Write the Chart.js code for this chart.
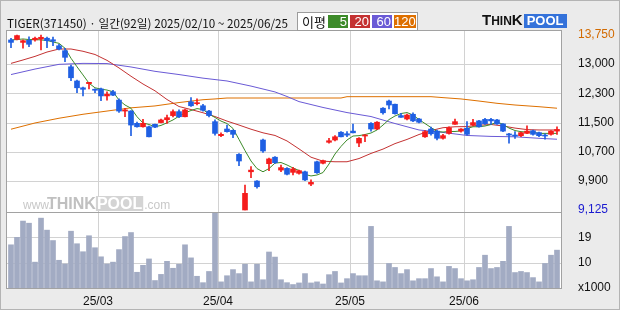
<!DOCTYPE html>
<html>
<head>
<meta charset="utf-8">
<script src="https://cdn.jsdelivr.net/npm/chart.js@4.4.1/dist/chart.umd.min.js"></script>
<style>
  html, body { margin: 0; padding: 0; background: #ebebeb; }
  #wrap { position: relative; width: 620px; height: 310px; overflow: hidden; }
  #c { position: absolute; left: 0; top: 0; }
  #title { position: absolute; left: 7px; top: 14px; font: 11.7px "Noto Sans CJK KR", sans-serif; line-height: 18px; color: #111; white-space: nowrap; }
  #leg { position: absolute; left: 297px; top: 12px; width: 119px; height: 17px; border: 1px solid #9c9c9c; background: #fff; font: 13px "Noto Sans CJK KR", sans-serif; }
  #leg .lbl { position: absolute; left: 4px; top: 0; line-height: 17px; color: #111; }
  #leg .box { position: absolute; top: 2px; height: 13px; line-height: 13px; color: #fff; text-align: right; padding-right: 1px; box-sizing: border-box; font-family: "Liberation Sans", sans-serif; }
  #logo { position: absolute; left: 482px; top: 13px; height: 14px; white-space: nowrap; font: bold 12px "Liberation Sans", sans-serif; line-height: 14px; color: #111; }
  #logo .big { font-size: 15px; }
  #logo .pool { display: inline-block; background: #3472da; color: #fff; font-size: 13px; padding: 0 3px; margin-left: 1px; }
</style>
</head>
<body>
<div id="wrap">
  <canvas id="c" width="620" height="310"></canvas>
  <div id="title">TIGER(371450) · 일간(92일) 2025/02/10 ~ 2025/06/25</div>
  <div id="leg">
    <span class="lbl">이평</span>
    <span class="box" style="left:30px;width:20px;background:#3d8b2a">5</span>
    <span class="box" style="left:52px;width:20px;background:#c43232">20</span>
    <span class="box" style="left:74px;width:20px;background:#6a5ad6">60</span>
    <span class="box" style="left:96px;width:22px;background:#de7000">120</span>
  </div>
  <div id="logo"><span class="big">T</span>HIN<span class="big">K</span><span class="pool">POOL</span></div>
</div>
<script>
// trading days per month, 2025
const febDays = [10, 11, 12, 13, 14, 17, 18, 19, 20, 21, 24, 25, 26, 27, 28];
const marDays = [4, 5, 6, 7, 10, 11, 12, 13, 14, 17, 18, 19, 20, 21, 24, 25, 26, 27, 28, 31];
const aprDays = [1, 2, 3, 4, 7, 8, 9, 10, 11, 14, 15, 16, 17, 18, 21, 22, 23, 24, 25, 28, 29, 30];
const mayDays = [2, 7, 8, 9, 12, 13, 14, 15, 16, 19, 20, 21, 22, 23, 26, 27, 28, 29, 30];
const junDays = [2, 4, 5, 9, 10, 11, 12, 13, 16, 17, 18, 19, 20, 23, 24, 25];

const dates = [];
[['02', febDays], ['03', marDays], ['04', aprDays], ['05', mayDays], ['06', junDays]].forEach(([m, days]) => {
    days.forEach(d => dates.push('2025/' + m + '/' + String(d).padStart(2, '0')));
});

const open = [
    13620, 13635, 13555, 13610, 13620, 13645, 13665, 13625, 13465, 13335,
    12910, 12535, 12355, 12465, 12315, 12325, 12140, 12250, 12030, 11740,
    11740, 11415, 11325, 11325, 11390, 11435, 11510, 11620, 11725, 11590,
    11985, 11935, 11880, 11740, 11460, 11090, 11265, 11230, 10595, 9125,
    10135, 9890, 10975, 10350, 10520, 10180, 10225, 10120, 10095, 10135,
    9810, 10400, 10360, 10915, 10975, 11180, 11140, 11210, 10895, 11080,
    11415, 11265, 11815, 12005, 11920, 11620, 11530, 11655, 11530, 11060,
    11265, 11210, 11020, 11150, 11390, 11210, 11285, 11370, 11480, 11520,
    11520, 11505, 11400, 11135, 11105, 11090, 11150, 11220, 11170, 11105,
    11125, 11210
];
const high = [
    13665, 13750, 13620, 13705, 13695, 13745, 13695, 13695, 13505, 13400,
    12955, 12560, 12375, 12500, 12325, 12350, 12250, 12285, 12060, 11815,
    11755, 11450, 11520, 11345, 11395, 11530, 11635, 11770, 11770, 11795,
    12095, 12060, 11920, 11760, 11505, 11165, 11370, 11245, 10615, 9785,
    10270, 9905, 11000, 10500, 10540, 10315, 10245, 10255, 10180, 10155,
    9920, 10420, 10445, 11020, 11095, 11200, 11200, 11395, 11040, 11120,
    11435, 11465, 11835, 12030, 11925, 11680, 11660, 11690, 11545, 11225,
    11315, 11240, 11125, 11325, 11530, 11280, 11460, 11520, 11495, 11545,
    11550, 11520, 11410, 11150, 11195, 11185, 11350, 11240, 11185, 11135,
    11225, 11325
];
const low = [
    13415, 13620, 13400, 13440, 13590, 13355, 13415, 13465, 13355, 13045,
    12540, 12225, 12140, 12325, 12225, 12015, 12030, 12145, 11705, 11590,
    11090, 11315, 11315, 11055, 11300, 11425, 11415, 11585, 11565, 11585,
    11865, 11900, 11740, 11585, 11105, 11065, 11185, 11035, 10295, 9125,
    9980, 9700, 10650, 10165, 10355, 10135, 10050, 10050, 10075, 9900,
    9765, 10090, 10340, 10890, 10950, 11055, 11060, 11165, 10800, 10930,
    11210, 11250, 11655, 11795, 11660, 11575, 11505, 11460, 11425, 11040,
    11105, 10975, 10995, 11130, 11390, 11185, 11105, 11350, 11315, 11390,
    11390, 11385, 11195, 10890, 11020, 11065, 11140, 11105, 11065, 11000,
    11105, 11125
];
const close = [
    13555, 13735, 13600, 13505, 13665, 13690, 13600, 13585, 13380, 13160,
    12620, 12355, 12315, 12500, 12290, 12140, 12185, 12160, 11740, 11770,
    11370, 11325, 11415, 11060, 11315, 11505, 11565, 11725, 11590, 11770,
    11880, 11960, 11760, 11620, 11150, 11125, 11195, 11125, 10420, 9565,
    10180, 9740, 10685, 10475, 10375, 10245, 10070, 10210, 10165, 9920,
    9855, 10110, 10430, 10955, 11060, 11060, 11105, 11165, 11020, 11105,
    11265, 11445, 11695, 11900, 11670, 11575, 11635, 11480, 11445, 11195,
    11140, 11020, 11090, 11300, 11460, 11265, 11125, 11435, 11325, 11405,
    11480, 11400, 11210, 11105, 11080, 11170, 11210, 11125, 11090, 11080,
    11210, 11255
];

// moving averages
const ma5 = [
    13620, 13630, 13645, 13630, 13630, 13620, 13605, 13565, 13530, 13400,
    13135, 12910, 12695, 12475, 12355, 12320, 12295, 12250, 12030, 11900,
    11815, 11590, 11425, 11385, 11325, 11360, 11430, 11505, 11605, 11690,
    11755, 11805, 11780, 11660, 11570, 11475, 11410, 11280, 10990, 10695,
    10420, 10220, 10135, 10220, 10365, 10380, 10315, 10235, 10170, 10065,
    10025, 10050, 10115, 10340, 10605, 10805, 10975, 11080, 11090, 11120,
    11160, 11240, 11370, 11515, 11610, 11675, 11700, 11635, 11515, 11410,
    11305, 11200, 11185, 11200, 11200, 11215, 11280, 11325, 11325, 11345,
    11385, 11450, 11390, 11290, 11225, 11195, 11185, 11180, 11150, 11150,
    11150, 11150
];
const ma20Pts = [
    [0, 13000], [2, 13090], [4, 13185], [6, 13300], [8, 13380], [10, 13380], [12, 13320],
    [14, 13235], [16, 13080], [18, 12880], [20, 12660], [22, 12455], [24, 12275], [26, 12045],
    [28, 11860], [30, 11780], [32, 11695], [34, 11595], [36, 11475], [38, 11370], [40, 11260],
    [42, 11165], [44, 11095], [46, 10950], [48, 10740], [50, 10520], [52, 10415], [54, 10400],
    [56, 10400], [58, 10485], [60, 10620], [62, 10735], [64, 10880], [66, 10990], [68, 11120],
    [70, 11225], [72, 11300], [74, 11325], [76, 11330], [78, 11365], [80, 11385], [82, 11345],
    [84, 11290], [86, 11250], [88, 11240], [91, 11240]
];
const ma60Pts = [
    [0, 12705], [4, 12850], [8, 12975], [12, 13000], [16, 12995], [20, 12905], [24, 12790],
    [28, 12705], [32, 12610], [36, 12535], [40, 12400], [44, 12245], [46, 12125], [48, 11990],
    [52, 11835], [56, 11700], [60, 11595], [64, 11410], [68, 11240], [72, 11175], [76, 11095],
    [80, 11070], [84, 11060], [88, 11020], [91, 10995]
];
const ma120Pts = [
    [0, 11260], [4, 11425], [8, 11550], [12, 11655], [16, 11740], [20, 11825], [24, 11875],
    [28, 11965], [32, 12040], [34, 12060], [36, 12085], [55, 12085], [56, 12120], [70, 12120],
    [72, 12095], [75, 12060], [78, 12005], [81, 11945], [84, 11900], [88, 11855], [91, 11815]
];

// volume, x1000
const volume = [
    16.2, 19.0, 25.1, 24.3, 9.7, 26.2, 21.7, 17.8, 10.4, 9.0,
    21.3, 16.6, 13.6, 19.6, 15.1, 11.7, 9.0, 9.7, 14.4, 19.3,
    20.8, 5.9, 8.5, 10.9, 2.8, 5.1, 10.0, 7.4, 8.9, 16.2,
    11.3, 4.4, 2.0, 6.2, 28.1, 2.3, 4.6, 6.9, 5.4, 8.9,
    2.3, 8.9, 3.1, 13.5, 11.6, 3.1, 2.0, 1.3, 1.9, 5.4,
    1.9, 2.3, 1.5, 5.0, 6.2, 1.9, 3.5, 5.4, 4.6, 4.6,
    23.1, 2.7, 2.3, 9.2, 7.7, 5.4, 6.9, 2.7, 3.5, 3.5,
    7.3, 4.2, 2.3, 8.1, 7.3, 3.5, 2.7, 3.1, 7.7, 12.3,
    7.3, 7.7, 10.0, 23.1, 5.8, 6.2, 5.8, 3.9, 2.3, 9.2,
    12.3, 14.2
];

// axis ticks: high / low of the period and five equal steps between
const priceTicks = [9125, 9895.8, 10666.7, 11437.5, 12208.3, 12979.2, 13750];
const priceTickLabels = ['9,125', '9,900', '10,700', '11,500', '12,300', '13,000', '13,750'];
const volTicks = [0, 9.5, 19];
const volTickLabels = ['x1000', '10', '19'];

const RED = '#f51c1c';
const BLUE = '#1f5fe3';
const GRID = '#d2d2d2';
const NONE = 'rgba(0,0,0,0)';
const FRAME = '#a2a2a2';
const tickFont = { family: "'Liberation Sans', sans-serif", size: 12 };

function toSeries(pts) {
    const a = new Array(dates.length).fill(null);
    pts.forEach(([i, v]) => { a[i] = v; });
    return a;
}
function isMonthStart(i) {
    return i > 0 && i < dates.length && dates[i].slice(5, 7) !== dates[i - 1].slice(5, 7);
}

const candleColors = close.map((c, i) => (c >= open[i] ? RED : BLUE));

const panelPlugin = {
    id: 'panel',
    beforeDraw(chart) {
        const { ctx, chartArea: a } = chart;
        ctx.save();
        ctx.fillStyle = '#ebebeb';
        ctx.fillRect(0, 0, chart.width, chart.height);
        ctx.fillStyle = '#ffffff';
        ctx.fillRect(a.left - 1, a.top, a.right - a.left + 2, a.bottom - a.top);
        ctx.restore();
    },
    beforeDatasetsDraw(chart) {
        const { ctx, chartArea: a, scales } = chart;
        ctx.save();
        // horizontal grid lines of both panels, as 1px filled rows
        ctx.fillStyle = GRID;
        const hline = py => {
            ctx.fillRect(a.left - 1, Math.round(py), a.right - a.left + 2, 1);
        };
        priceTicks.slice(1, -1).forEach(v => hline(scales.y.getPixelForValue(v)));
        volTicks.slice(1).forEach(v => hline(scales.yv.getPixelForValue(v)));
        // watermark
        const wy = 209;
        ctx.textBaseline = 'alphabetic';
        ctx.fillStyle = '#c8c8c8';
        ctx.font = "12px 'Liberation Sans', sans-serif";
        ctx.fillText('www.', 23, wy);
        ctx.font = "bold 16px 'Liberation Sans', sans-serif";
        ctx.fillStyle = '#c0c0c0';
        ctx.fillText('THINK', 47, wy);
        const w = ctx.measureText('THINK').width;
        const pw = ctx.measureText('POOL').width;
        ctx.fillStyle = '#d4d4d4';
        ctx.fillRect(47 + w, wy - 13, pw + 2, 15);
        ctx.fillStyle = '#ffffff';
        ctx.fillText('POOL', 47 + w + 1, wy);
        ctx.fillStyle = '#c8c8c8';
        ctx.font = "12px 'Liberation Sans', sans-serif";
        ctx.fillText('.com', 47 + w + pw + 3, wy);
        ctx.restore();
    },
    afterDraw(chart) {
        const { ctx, chartArea: a } = chart;
        const split = chart.scales.y.bottom;
        ctx.save();
        ctx.strokeStyle = FRAME;
        ctx.lineWidth = 1;
        ctx.strokeRect(a.left - 1.5, a.top - 0.5, a.right - a.left + 3, a.bottom - a.top + 1);
        ctx.beginPath();
        ctx.moveTo(a.left - 1.5, Math.round(split) + 0.5);
        ctx.lineTo(a.right + 1.5, Math.round(split) + 0.5);
        ctx.stroke();
        ctx.strokeStyle = '#b4b4b4';
        ctx.strokeRect(0.5, 0.5, chart.width - 1, chart.height - 1);
        ctx.restore();
    }
};

const lineDs = (label, data, color) => ({
    type: 'line', label, data, yAxisID: 'y',
    borderColor: color, borderWidth: 1, pointRadius: 0,
    tension: 0, spanGaps: true, order: 5
});

new Chart(document.getElementById('c'), {
    type: 'bar',
    data: {
        labels: dates,
        datasets: [
            {
                label: 'body', yAxisID: 'y', grouped: false, order: 1,
                data: open.map((o, i) => [Math.min(o, close[i]), Math.max(o, close[i])]),
                backgroundColor: candleColors, barThickness: 5, minBarLength: 1
            },
            {
                label: 'wick', yAxisID: 'y', grouped: false, order: 2,
                data: low.map((l, i) => [l, high[i]]),
                backgroundColor: candleColors, barThickness: 1
            },
            lineDs('5', ma5, '#3d8b2a'),
            lineDs('20', toSeries(ma20Pts), '#c43232'),
            lineDs('60', toSeries(ma60Pts), '#6a5ad6'),
            lineDs('120', toSeries(ma120Pts), '#de7000'),
            {
                label: 'volume', yAxisID: 'yv', grouped: false, order: 6,
                data: volume, backgroundColor: '#a2abc3', barThickness: 5
            }
        ]
    },
    options: {
        responsive: false,
        animation: false,
        devicePixelRatio: 1,
        layout: { padding: { top: 31, left: 8, right: 0, bottom: 0 } },
        plugins: { legend: { display: false }, tooltip: { enabled: false } },
        scales: {
            x: {
                type: 'category', offset: true,
                grid: {
                    offset: true, drawTicks: false,
                    color: ctx => (isMonthStart(ctx.index) ? GRID : NONE)
                },
                border: { display: false },
                ticks: {
                    autoSkip: false, maxRotation: 0, minRotation: 0, padding: 6, labelOffset: -3,
                    font: tickFont, color: '#111',
                    callback: (v, i) => (isMonthStart(i) ? '25/' + dates[i].slice(5, 7) : '')
                },
                afterFit: s => { s.height = 22; }
            },
            y: {
                position: 'right', stack: 'main', stackWeight: 181,
                min: 9072, max: 13856,
                afterBuildTicks: s => { s.ticks = priceTicks.map(v => ({ value: v })); },
                grid: { display: false },
                border: { display: false },
                ticks: {
                    autoSkip: false, padding: 10, font: tickFont,
                    color: ctx => (ctx.index === 0 ? '#1a1ad0' : ctx.index === priceTicks.length - 1 ? '#d26a00' : '#111'),
                    callback: (v, i) => priceTickLabels[i]
                },
                afterFit: s => { s.width = 60; }
            },
            yv: {
                position: 'right', stack: 'main', stackWeight: 76,
                min: 0, max: 28.5,
                afterBuildTicks: s => { s.ticks = volTicks.map(v => ({ value: v })); },
                grid: { display: false },
                border: { display: false },
                ticks: {
                    autoSkip: false, padding: 10, font: tickFont, color: '#111',
                    callback: (v, i) => volTickLabels[i]
                },
                afterFit: s => { s.width = 60; }
            }
        }
    },
    plugins: [panelPlugin]
});
</script>
</body>
</html>
